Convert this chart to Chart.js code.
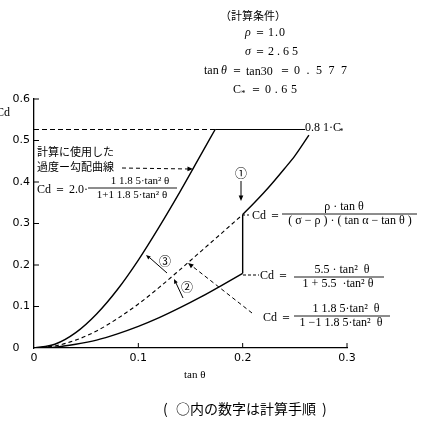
<!DOCTYPE html>
<html><head><meta charset="utf-8">
<script src="https://cdn.jsdelivr.net/npm/chart.js@4.4.0/dist/chart.umd.min.js"></script>
<style>html,body{margin:0;padding:0;background:#fff}canvas{display:block}</style>
</head><body>
<canvas id="c" width="426" height="423"></canvas>
<script>
// ---- data ----
const xTicks = [0, 0.1, 0.2, 0.3];
const xTickLabels = ['0', '0.1', '0.2', '0.3'];
const yTicks = [0, 0.1, 0.2, 0.3, 0.4, 0.5, 0.6];
const yTickLabels = ['0   ', '0.1', '0.2', '0.3', '0.4', '0.5', '0.6'];

// 計算に使用した過度−勾配曲線 (solid, steep)
const tanUsed = [0, 0.02, 0.04, 0.06, 0.08, 0.10, 0.12, 0.14, 0.16, 0.1736];
const cdUsed  = [0, 0.009, 0.037, 0.082, 0.141, 0.212, 0.292, 0.377, 0.466, 0.5265];
// 11.85 curve (dashed)
const tanMid = [0, 0.02, 0.04, 0.06, 0.08, 0.10, 0.12, 0.14, 0.16, 0.18, 0.20];
const cdMid  = [0, 0.005, 0.019, 0.041, 0.071, 0.106, 0.146, 0.189, 0.233, 0.277, 0.3215];
// rho tan theta curve (solid, upper right)
const tanRho = [0.20, 0.21, 0.22, 0.23, 0.24, 0.25, 0.2635];
const cdRho  = [0.3215, 0.347, 0.3735, 0.402, 0.432, 0.463, 0.513];
// 5.5 curve (solid, lower)
const tanLow = [0, 0.02, 0.04, 0.06, 0.08, 0.10, 0.12, 0.14, 0.16, 0.18, 0.20];
const cdLow  = [0, 0.002, 0.009, 0.019, 0.034, 0.052, 0.073, 0.097, 0.123, 0.151, 0.180];
// vertical step at tan theta = 0.2
const tanStep = [0.2, 0.2];
const cdStep  = [0.180, 0.3215];
// 0.81 C* limit
const tanLimDash = [0, 0.1736];
const tanLimSolid = [0.1736, 0.26];
const cdLimit = 0.5265;

const pts = (xs, ys) => xs.map((x, i) => ({x, y: ys[i]}));

const ser = "'Liberation Serif','DejaVu Serif',serif";
const jp = "'Noto Sans CJK JP',sans-serif";

function arrowHead(ctx, x1, y1, x2, y2, s) {
  const a = Math.atan2(y2 - y1, x2 - x1);
  ctx.save(); ctx.setLineDash([]);
  ctx.beginPath();
  ctx.moveTo(x2, y2);
  ctx.lineTo(x2 - s * Math.cos(a - 0.4), y2 - s * Math.sin(a - 0.4));
  ctx.lineTo(x2 - s * Math.cos(a + 0.4), y2 - s * Math.sin(a + 0.4));
  ctx.closePath(); ctx.fill();
  ctx.restore();
}
function line(ctx, x1, y1, x2, y2, dash, w) {
  ctx.save(); ctx.setLineDash(dash || []); ctx.lineWidth = w || 1;
  ctx.beginPath(); ctx.moveTo(x1, y1); ctx.lineTo(x2, y2); ctx.stroke(); ctx.restore();
}
function txt(ctx, s, x, y, font, align) {
  ctx.font = font; ctx.textAlign = align || 'left'; ctx.textBaseline = 'middle';
  ctx.fillText(s, x, y);
}
// draw a string spread between x and x + width (characters evenly spaced)
function spread(ctx, s, x, y, font, width) {
  ctx.font = font; ctx.textAlign = 'left'; ctx.textBaseline = 'middle';
  const chars = [...s];
  const natural = chars.reduce((a, c) => a + ctx.measureText(c).width, 0);
  const gap = chars.length > 1 ? (width - natural) / (chars.length - 1) : 0;
  let cx = x;
  chars.forEach(c => { ctx.fillText(c, cx, y); cx += ctx.measureText(c).width + gap; });
}
function frac(ctx, xL, xR, yL, num, den, numCx, denCx, font) {
  line(ctx, xL, yL, xR, yL, [], 0.9);
  txt(ctx, num, numCx, yL - 7, font, 'center');
  txt(ctx, den, denCx, yL + 7, font, 'center');
}

const annot = {
  id: 'annot',
  afterDraw(chart) {
    const ctx = chart.ctx;
    const xs = chart.scales.x, ys = chart.scales.y;
    ctx.save();
    ctx.fillStyle = '#000'; ctx.strokeStyle = '#000';
    // inside tick marks
    xTicks.forEach(v => { if (v === 0) return; const px = xs.getPixelForValue(v);
      line(ctx, px, ys.bottom, px, ys.bottom - 5, [], 1); });
    yTicks.forEach(v => { if (v === 0) return; const py = ys.getPixelForValue(v);
      line(ctx, xs.left, py, xs.left + 5, py, [], 1); });

    // axis titles
    txt(ctx, 'Cd', -4, 113, '12px ' + ser);
    txt(ctx, 'tan θ', 184, 375, '11px ' + ser);

    // conditions
    txt(ctx, '（計算条件）', 220, 16, '11px ' + jp);
    txt(ctx, 'ρ', 245, 33, 'italic 12px ' + ser);
    txt(ctx, '＝', 254, 33, '12px ' + ser);
    spread(ctx, '1.0', 268, 33, '12px ' + ser, 17);
    txt(ctx, 'σ', 245, 52, 'italic 12px ' + ser);
    txt(ctx, '＝', 254, 52, '12px ' + ser);
    spread(ctx, '2.65', 268, 52, '12px ' + ser, 30);
    txt(ctx, 'tan', 204, 71, '12px ' + ser);
    txt(ctx, 'θ', 221, 71, 'italic 12px ' + ser);
    txt(ctx, '＝', 231, 71, '12px ' + ser);
    txt(ctx, 'tan30', 246, 72, '12px ' + ser);
    txt(ctx, '＝', 279, 71, '12px ' + ser);
    spread(ctx, '0.577', 294, 71, '12px ' + ser, 53);
    txt(ctx, 'C', 233, 90, '12px ' + ser);
    txt(ctx, '*', 241, 94, '9px ' + ser);
    txt(ctx, '＝', 250, 90, '12px ' + ser);
    spread(ctx, '0.65', 265, 90, '12px ' + ser, 32);

    // 0.81 C* label
    txt(ctx, '0.8 1·C', 305, 128, '12px ' + ser);
    txt(ctx, '*', 339, 132, '9px ' + ser);

    // left annotation
    txt(ctx, '計算に使用した', 37, 152, '11px ' + jp);
    txt(ctx, '過度ー勾配曲線', 37, 167, '11px ' + jp);
    line(ctx, 122, 168, 190, 169, [4, 3], 1);
    arrowHead(ctx, 122, 168, 193, 169, 6);
    txt(ctx, 'Cd ＝ 2.0·', 37, 190, '12px ' + ser);
    frac(ctx, 88, 177, 188, '1 1.8 5·tan² θ', '1+1 1.8 5·tan² θ', 140, 132, '11px ' + ser);

    // (1)
    txt(ctx, '①', 241, 173, '12px ' + jp, 'center');
    line(ctx, 241, 181, 241, 196, [], 1);
    arrowHead(ctx, 241, 181, 241, 201, 6);
    line(ctx, 243, 215, 251, 215, [2, 2], 1);
    txt(ctx, 'Cd ＝', 252, 216, '12px ' + ser);
    frac(ctx, 282, 417, 214, 'ρ · tan θ', '( σ − ρ ) · ( tan α − tan θ )', 344, 350, '12px ' + ser);

    // 5.5 formula
    line(ctx, 243, 275, 259, 275, [3, 2], 1);
    txt(ctx, 'Cd ＝', 260, 276, '12px ' + ser);
    frac(ctx, 294, 384, 277, '5.5 · tan²  θ', '1 + 5.5  ·tan² θ', 342, 338, '12px ' + ser);

    // 11.85 formula
    line(ctx, 252, 313, 192, 266, [4, 3], 1);
    arrowHead(ctx, 252, 313, 188, 263, 6);
    txt(ctx, 'Cd ＝', 263, 318, '12px ' + ser);
    frac(ctx, 294, 390, 316, '1 1.8 5·tan²  θ', '1 −1 1.8 5·tan²  θ', 346, 341, '12px ' + ser);

    // (3)
    txt(ctx, '③', 165, 261, '12px ' + jp, 'center');
    line(ctx, 167, 273, 150, 258, [], 1);
    arrowHead(ctx, 167, 273, 146, 255, 5);
    // (2)
    txt(ctx, '②', 187, 287, '12px ' + jp, 'center');
    line(ctx, 183, 298, 176, 283, [], 1);
    arrowHead(ctx, 183, 298, 174, 279, 5);

    // note
    txt(ctx, '(', 163, 409, '14px ' + jp);
    txt(ctx, '○内の数字は計算手順', 176, 409, '14px ' + jp);
    txt(ctx, ')', 322, 409, '14px ' + jp);
    ctx.restore();
  }
};

const solid = {borderColor: '#000', borderWidth: 1.4, pointRadius: 0, showLine: true, fill: false};
new Chart(document.getElementById('c'), {
  type: 'scatter',
  data: {
    datasets: [
      Object.assign({label: 'used', data: pts(tanUsed, cdUsed), cubicInterpolationMode: 'monotone'}, solid),
      Object.assign({label: 'mid', data: pts(tanMid, cdMid), borderDash: [4, 3], cubicInterpolationMode: 'monotone'}, solid, {borderWidth: 1.1}),
      Object.assign({label: 'rho', data: pts(tanRho, cdRho), cubicInterpolationMode: 'monotone'}, solid),
      Object.assign({label: 'low', data: pts(tanLow, cdLow), cubicInterpolationMode: 'monotone'}, solid),
      Object.assign({label: 'step', data: pts(tanStep, cdStep)}, solid),
      Object.assign({label: 'limd', data: pts(tanLimDash, [cdLimit, cdLimit]), borderDash: [5, 3]}, solid, {borderWidth: 1.1}),
      Object.assign({label: 'lims', data: pts(tanLimSolid, [cdLimit, cdLimit])}, solid, {borderWidth: 1.1})
    ]
  },
  options: {
    responsive: false, animation: false, devicePixelRatio: 1,
    layout: {padding: {top: 99, right: 79, left: 0, bottom: 0}},
    plugins: {legend: {display: false}, tooltip: {enabled: false}},
    scales: {
      x: {
        type: 'linear', min: 0, max: 0.3,
        afterBuildTicks: s => { s.ticks = xTicks.map(v => ({value: v})); },
        afterFit: s => { s.height = 75; },
        ticks: {callback: (v, i) => xTickLabels[i], color: '#000', padding: 4, maxRotation: 0,
                font: {family: "'DejaVu Sans',sans-serif", size: 11}},
        grid: {display: false, drawTicks: false},
        border: {display: true, color: '#000', width: 1.3}
      },
      y: {
        type: 'linear', min: 0, max: 0.6,
        afterBuildTicks: s => { s.ticks = yTicks.map(v => ({value: v})); },
        afterFit: s => { s.width = 34; },
        ticks: {callback: (v, i) => yTickLabels[i], color: '#000', padding: 4,
                font: {family: "'DejaVu Sans',sans-serif", size: 11}},
        grid: {display: false, drawTicks: false},
        border: {display: true, color: '#000', width: 1.3}
      }
    }
  },
  plugins: [annot]
});
</script>
</body></html>
